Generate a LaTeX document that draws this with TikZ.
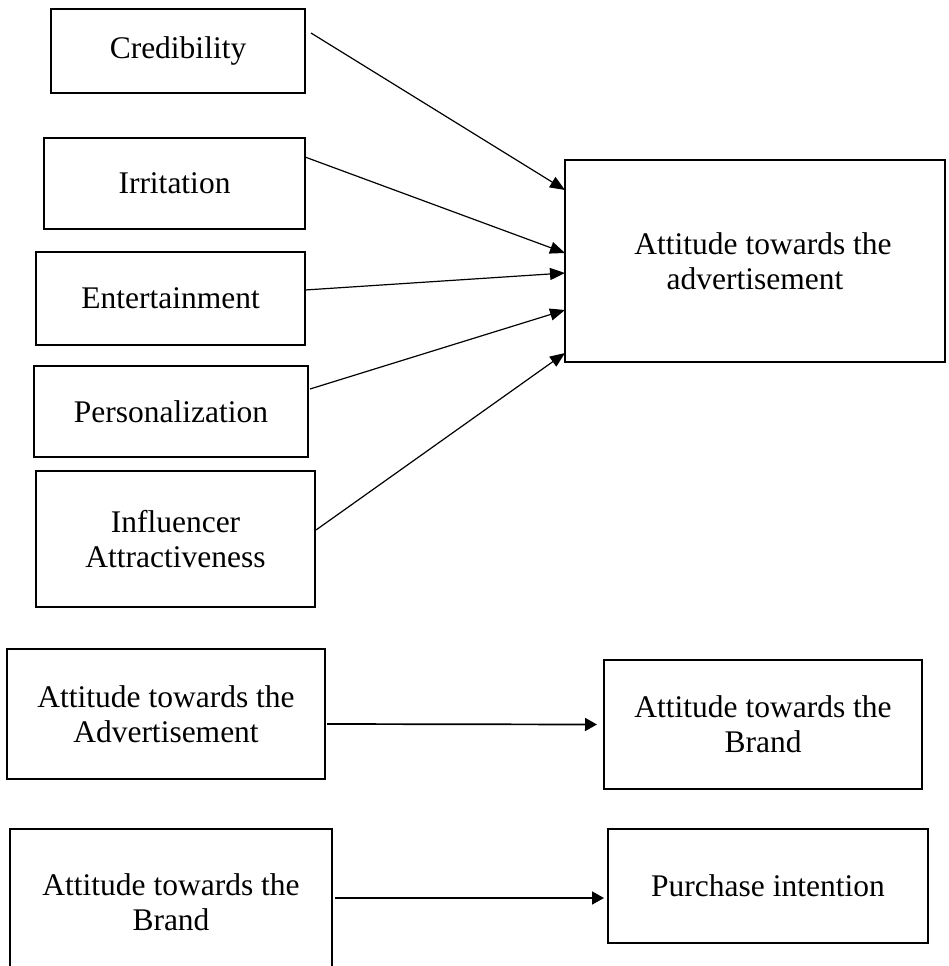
\documentclass[tikz,border=0pt]{standalone}
\usepackage{fontspec}
\setmainfont{Liberation Serif}
\usetikzlibrary{arrows.meta}
\begin{document}
\begin{tikzpicture}[x=1pt,y=-1pt,
  box/.style={draw, line width=2.3pt, inner sep=0pt, outer sep=0pt, align=center,
    font=\fontsize{31.5}{35}\selectfont},
  arr/.style={line width=1.2pt, -{Triangle[length=15pt,width=12pt]}},
  flat/.style={line width=1.7pt, -{Triangle[length=12pt,width=13pt]}}]
\useasboundingbox (0,0) rectangle (948,966);
% determinants of the attitude towards the advertisement
\node[box, minimum width=254pt, minimum height=84pt]  (cred) at (178,51)    {Credibility};
\node[box, minimum width=261pt, minimum height=91pt]  (irr)  at (174.5,183.5) {Irritation};
\node[box, minimum width=269pt, minimum height=93pt]  (ent)  at (170.5,298.5) {Entertainment};
\node[box, minimum width=274pt, minimum height=91pt]  (pers) at (171,411.5) {Personalization};
\node[box, minimum width=279pt, minimum height=136pt] (infl) at (175.5,539) {Influencer\\Attractiveness};
\node[box, minimum width=380pt, minimum height=202pt] (att)  at (755,261)   {\hspace*{16pt}Attitude towards the\\advertisement};
\draw[arr] ([xshift=6pt,yshift=18pt]cred.east)  -- ([yshift=-30pt]att.north west);
\draw[arr] ([yshift=26.5pt]irr.east)            -- ([yshift=-93pt]att.north west);
\draw[arr] ([yshift=8.5pt]ent.east)             -- ([yshift=-113pt]att.north west);
\draw[arr] ([xshift=2pt,yshift=22.5pt]pers.east) -- ([yshift=-150pt]att.north west);
\draw[arr] ([xshift=1pt,yshift=9pt]infl.east)   -- ([yshift=-193pt]att.north west);
% advertisement -> brand
\node[box, minimum width=318pt, minimum height=130pt] (advad)  at (166,714)   {Attitude towards the\\Advertisement};
\node[box, minimum width=318pt, minimum height=129pt] (brand1) at (763,724.5) {Attitude towards the\\Brand};
\draw[flat] ([xshift=2pt,yshift=-10pt]advad.east) -- ([xshift=-7pt]brand1.west);
% brand -> purchase intention
\node[box, minimum width=322pt, minimum height=146pt] (brand2) at (171,902) {Attitude towards the\\Brand};
\node[box, minimum width=320pt, minimum height=114pt] (pur)    at (768,886) {Purchase intention};
\draw[flat] ([xshift=3pt,yshift=4pt]brand2.east) -- ([xshift=-4pt,yshift=-12pt]pur.west);
\end{tikzpicture}
\end{document}
